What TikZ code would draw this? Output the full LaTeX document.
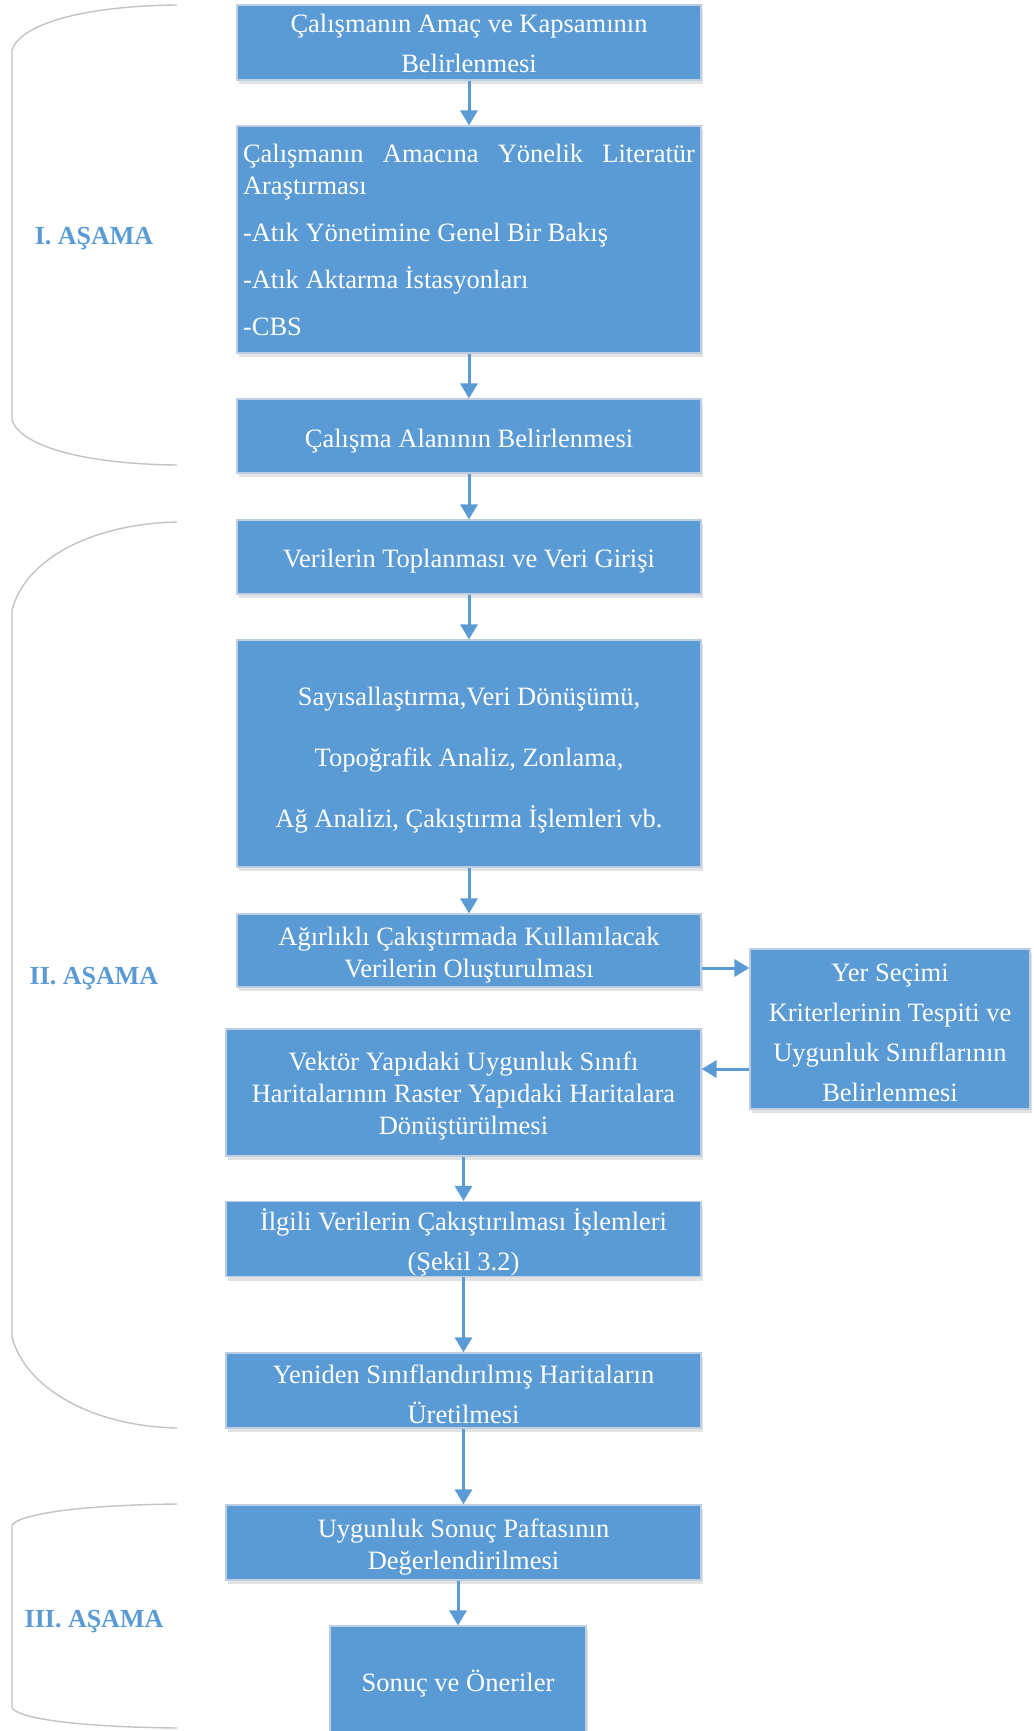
\documentclass[tikz,border=0pt]{standalone}
\usepackage{fontspec}
\setmainfont{Liberation Serif}
\usetikzlibrary{arrows.meta,shadows}
\definecolor{boxblue}{HTML}{5B9BD5}
\definecolor{boxborder}{RGB}{190,206,224}
\definecolor{brk}{RGB}{195,195,195}
\newcommand\boxfont[1]{\fontsize{26.5}{#1}\selectfont}
\tikzset{
  box/.style={draw=boxborder, line width=1.2pt, fill=boxblue, inner sep=0pt,
    drop shadow={fill=black!60, opacity=0.18, shadow xshift=1.5pt, shadow yshift=-4pt}},
  btext/.style={text=white, align=center, inner sep=0pt},
  arr/.style={draw=boxblue, line width=3pt, -{Triangle[width=17pt,length=15pt]}},
  brace/.style={draw=brk, line width=1.4pt},
  lab/.style={font=\bfseries\fontsize{26}{30}\selectfont, text=boxblue, inner sep=0pt}
}
\begin{document}
\begin{tikzpicture}[x=1pt,y=-1pt]
\clip (0,0) rectangle (1033,1731);
\fill[white] (0,0) rectangle (1033,1731);

% phase brackets
\draw[brace] (177,5) .. controls (80,6) and (20,25) .. (12,50) -- (12,420)
  .. controls (20,445) and (80,464) .. (177,465);
\draw[brace] (177,522) .. controls (90,524) and (25,560) .. (12,610) -- (12,1337)
  .. controls (25,1387) and (90,1426) .. (177,1428);
\draw[brace] (177,1504) .. controls (80,1505) and (20,1514) .. (12,1525) -- (12,1708)
  .. controls (20,1719) and (80,1727) .. (177,1728);

\node[lab] (l1) at (94,239) {I. AŞAMA};
\node[lab] (l2) at (94,979) {II. AŞAMA};
\node[lab] (l3) at (94,1622) {III. AŞAMA};

% boxes
\node[box, minimum width=464pt, minimum height=75pt] (b1) at (469,42.5) {};
\node[box, minimum width=464pt, minimum height=227pt] (b2) at (469,239.5) {};
\node[box, minimum width=464pt, minimum height=74pt] (b3) at (469,436) {};
\node[box, minimum width=464pt, minimum height=74pt] (b4) at (469,557) {};
\node[box, minimum width=464pt, minimum height=227pt] (b5) at (469,753.5) {};
\node[box, minimum width=464pt, minimum height=73pt] (b6) at (469,950.5) {};
\node[box, minimum width=280pt, minimum height=160pt] (side) at (890,1029) {};
\node[box, minimum width=475pt, minimum height=127pt] (b7) at (463.5,1092.5) {};
\node[box, minimum width=475pt, minimum height=75pt] (b8) at (463.5,1239) {};
\node[box, minimum width=475pt, minimum height=75pt] (b9) at (463.5,1390.5) {};
\node[box, minimum width=475pt, minimum height=75pt] (b10) at (463.5,1542.5) {};
\node[box, minimum width=256pt, minimum height=112pt] (b11) at (458,1682) {};

% box texts
\node[btext, font=\boxfont{40}] (t1) at ([yshift=-1pt]b1.center)
  {Çalışmanın Amaç ve Kapsamının\\Belirlenmesi};
\node[btext, text width=452pt, align=flush left, font=\boxfont{32}] (t2) at (b2.center)
  {\makebox[452pt][s]{Çalışmanın\hfill Amacına\hfill Yönelik\hfill Literatür}\\Araştırması\\[15pt]-Atık Yönetimine Genel Bir Bakış\\[15pt]-Atık Aktarma İstasyonları\\[15pt]-CBS};
\node[btext, font=\boxfont{40}] (t3) at ([yshift=-5.5pt]b3.center)
  {Çalışma Alanının Belirlenmesi};
\node[btext, font=\boxfont{40}] (t4) at ([yshift=-4.5pt]b4.center)
  {Verilerin Toplanması ve Veri Girişi};
\node[btext, font=\boxfont{61}] (t5) at ([yshift=-6.5pt]b5.center)
  {Sayısallaştırma,Veri Dönüşümü,\\Topoğrafik Analiz, Zonlama,\\Ağ Analizi, Çakıştırma İşlemleri vb.};
\node[btext, font=\boxfont{32}] (t6) at ([yshift=-4.5pt]b6.center)
  {Ağırlıklı Çakıştırmada Kullanılacak\\Verilerin Oluşturulması};
\node[btext, font=\boxfont{40}] (tside) at ([yshift=-3.5pt]side.center)
  {Yer Seçimi\\Kriterlerinin Tespiti ve\\Uygunluk Sınıflarının\\Belirlenmesi};
\node[btext, font=\boxfont{32}] (t7) at ([yshift=-3.5pt]b7.center)
  {Vektör Yapıdaki Uygunluk Sınıfı\\Haritalarının Raster Yapıdaki Haritalara\\Dönüştürülmesi};
\node[btext, font=\boxfont{40}] (t8) at ([yshift=-3.5pt]b8.center)
  {İlgili Verilerin Çakıştırılması İşlemleri\\(Şekil 3.2)};
\node[btext, font=\boxfont{40}] (t9) at ([yshift=-3.5pt]b9.center)
  {Yeniden Sınıflandırılmış Haritaların\\Üretilmesi};
\node[btext, font=\boxfont{32}] (t10) at ([yshift=-4.5pt]b10.center)
  {Uygunluk Sonuç Paftasının\\Değerlendirilmesi};
\node[btext, font=\boxfont{40}] (t11) at ([yshift=-2pt]b11.center)
  {Sonuç ve Öneriler};

% connectors
\draw[arr] (b1) -- (b2);
\draw[arr] (b2) -- (b3);
\draw[arr] (b3) -- (b4);
\draw[arr] (b4) -- (b5);
\draw[arr] (b5) -- (b6);
\draw[arr] ([yshift=-17.5pt]b6.east) -- ([yshift=-17.5pt]b6.east -| side.west);
\draw[arr] ([yshift=23.5pt]b7.east -| side.west) -- ([yshift=23.5pt]b7.east);
\draw[arr] (b7) -- (b8);
\draw[arr] (b8) -- (b9);
\draw[arr] (b9) -- (b10);
\draw[arr] (b10.south -| b11.north) -- (b11.north);
\end{tikzpicture}
\end{document}
